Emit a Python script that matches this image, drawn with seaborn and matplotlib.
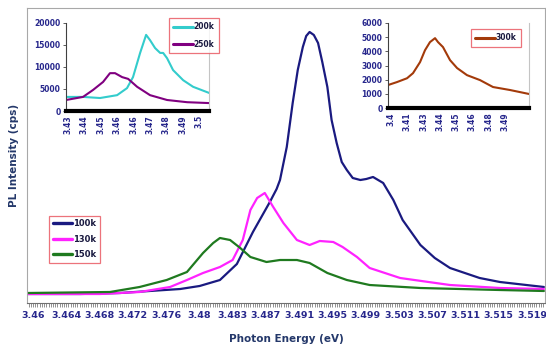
import numpy as np
import pandas as pd
import matplotlib
matplotlib.use("Agg")
import matplotlib.pyplot as plt
from matplotlib.ticker import FixedLocator
import seaborn as sns

# ---------------- data ----------------
# main panel: 100k / 130k / 150k
e_100k = [3.4594, 3.4656, 3.4703, 3.4738, 3.4774, 3.4797, 3.4821, 3.4841, 3.4860,
          3.4880, 3.4888, 3.4892, 3.4900, 3.4907, 3.4913, 3.4919, 3.4923, 3.4927,
          3.4932, 3.4937, 3.4942, 3.4948, 3.4953, 3.4959, 3.4965, 3.4971, 3.4978,
          3.4987, 3.4994, 3.5002, 3.5014, 3.5026, 3.5037, 3.5058, 3.5075, 3.5093,
          3.5128, 3.5152, 3.5204]
i_100k = [610, 610, 678, 814, 949, 1153, 1559, 2644, 4814,
          6848, 7729, 8339, 10577, 13560, 15797, 17357, 18103, 18374,
          18170, 17628, 16340, 14645, 12407, 10848, 9559, 9017, 8475,
          8339, 8407, 8543, 8136, 6983, 5627, 3932, 3051, 2373,
          1695, 1424, 1085]

e_130k = [3.4594, 3.4679, 3.4726, 3.4762, 3.4782, 3.4801, 3.4821, 3.4836, 3.4848,
          3.4857, 3.4865, 3.4874, 3.4884, 3.4896, 3.4912, 3.4927, 3.4939, 3.4955,
          3.4966, 3.4983, 3.4998, 3.5034, 3.5093, 3.5152, 3.5204]
i_130k = [610, 610, 746, 1085, 1559, 2034, 2441, 2915, 4271,
          6305, 7119, 7458, 6509, 5424, 4271, 3932, 4204, 4136,
          3797, 3119, 2373, 1695, 1220, 1017, 949]

e_150k = [3.4594, 3.4691, 3.4726, 3.4758, 3.4782, 3.4801, 3.4813, 3.4821, 3.4833,
          3.4845, 3.4857, 3.4876, 3.4892, 3.4912, 3.4927, 3.4948, 3.4971, 3.4998,
          3.5058, 3.5152, 3.5204]
i_150k = [678, 746, 1085, 1559, 2102, 3390, 4068, 4407, 4271,
          3729, 3119, 2780, 2915, 2915, 2712, 2034, 1559, 1220,
          1017, 881, 814]

main_tick_labels = ["3.46", "3.464", "3.468", "3.472", "3.476", "3.48", "3.483",
                    "3.487", "3.491", "3.495", "3.499", "3.503", "3.507", "3.511",
                    "3.515", "3.519"]

# inset 1: 200k / 250k
e_200k = [3.4289, 3.4380, 3.4471, 3.4562, 3.4615, 3.4647, 3.4685, 3.4717, 3.4738,
          3.4765, 3.4792, 3.4808, 3.4829, 3.4861, 3.4915, 3.4968, 3.5054]
i_200k = [3200, 3200, 2950, 3600, 5200, 7700, 13200, 17300, 16100,
          14300, 13200, 13200, 12000, 9300, 7000, 5500, 4100]
e_250k = [3.4289, 3.4380, 3.4434, 3.4487, 3.4524, 3.4551, 3.4589, 3.4621, 3.4669,
          3.4738, 3.4829, 3.4936, 3.5054]
i_250k = [2500, 3200, 4800, 6600, 8600, 8600, 7700, 7300, 5500,
          3600, 2500, 2000, 1800]
inset1_yticks = [0, 5000, 10000, 15000, 20000]
inset1_xlabels = ["3.43", "3.44", "3.45", "3.46", "3.46", "3.47", "3.48", "3.49", "3.5"]

# inset 2: 300k
e_300k = [3.3977, 3.4046, 3.4123, 3.4169, 3.4223, 3.4261, 3.4299, 3.4338, 3.4361,
          3.4399, 3.4453, 3.4507, 3.4583, 3.4683, 3.4783, 3.4913, 3.5059]
i_300k = [1620, 1830, 2100, 2460, 3240, 4080, 4650, 4930, 4650,
          4300, 3380, 2820, 2320, 1970, 1480, 1270, 990]
inset2_yticks = [0, 1000, 2000, 3000, 4000, 5000, 6000]
inset2_xlabels = ["3.4", "3.41", "3.43", "3.44", "3.45", "3.46", "3.48", "3.49"]

# ---------------- style ----------------
sns.set_theme(style="white")
plt.rcParams["font.family"] = ["DejaVu Sans"]
plt.rcParams["font.weight"] = "bold"

NAVY = "#1a1a80"
MAG = "#ff22ff"
GREEN = "#1f7a1f"
CYAN = "#33cccc"
PURPLE = "#800080"
BROWN = "#a33a0a"
TICKCOL = "#27278c"
LABCOL = "#24386a"
LEGEDGE = "#e8505a"
LEGTXT = "#1a1a40"

fig = plt.figure(figsize=(5.46, 3.47), dpi=100)
fig.patch.set_facecolor("white")

# ---------------- main axes ----------------
ax = fig.add_axes([27 / 546, 1 - 303 / 347, 518 / 546, 295 / 347])
for e, i, c, lab in [(e_100k, i_100k, NAVY, "100k"),
                     (e_130k, i_130k, MAG, "130k"),
                     (e_150k, i_150k, GREEN, "150k")]:
    sns.lineplot(x=e, y=i, color=c, lw=1.6, label=lab, ax=ax, sort=False)

ax.set_xlim(3.45929, 3.52053)
ax.set_ylim(0, 20000)
ax.set_yticks([])
major = np.linspace(3.46, 3.519, len(main_tick_labels))
ax.set_xticks(major, main_tick_labels)
step = (major[1] - major[0]) / 15
ax.xaxis.set_minor_locator(FixedLocator(np.arange(major[0] - 3 * step, 3.5205, step)))
ax.tick_params(axis="x", which="both", bottom=True, direction="out", length=3,
               width=0.6, color="#808080")
ax.tick_params(axis="x", which="major", labelsize=6.8, labelcolor=TICKCOL, pad=3)
for s in ["left", "top", "right"]:
    ax.spines[s].set_color("#a8a8a8")
    ax.spines[s].set_linewidth(0.8)
ax.spines["bottom"].set_color("#707070")
ax.spines["bottom"].set_linewidth(0.8)
ax.set_xlabel("Photon Energy (eV)", fontsize=7.5, fontweight="bold", color=LABCOL,
              labelpad=10)
ax.set_ylabel("PL Intensity (cps)", fontsize=7.5, fontweight="bold", color=LABCOL,
              labelpad=6)

h, l = ax.get_legend_handles_labels()
leg = ax.legend(h, l, loc="center", bbox_to_anchor=(74.5 / 546, 1 - 239 / 347),
                bbox_transform=fig.transFigure, fontsize=6, frameon=True,
                fancybox=False, edgecolor=LEGEDGE, borderpad=0.45,
                labelspacing=0.75, handlelength=2.3, handletextpad=0.1,
                borderaxespad=0)
leg.get_frame().set_linewidth(0.9)
for t in leg.get_texts():
    t.set_color(LEGTXT)
    t.set_fontweight("bold")
for hl in leg.get_lines():
    hl.set_linewidth(2.4)


def style_inset(a, ylim, yticks, xlim, xticks, xlabels):
    a.set_facecolor("white")
    a.set_xlim(*xlim)
    a.set_ylim(*ylim)
    a.set_yticks(yticks)
    a.set_xticks(xticks, xlabels)
    a.tick_params(axis="y", left=True, direction="out", length=2.5, width=0.6,
                  color="#404040", labelsize=5.5, labelcolor=TICKCOL, pad=1.5)
    a.tick_params(axis="x", bottom=True, length=0, labelsize=5.5,
                  labelcolor=TICKCOL, pad=3, labelrotation=90)
    a.spines["left"].set_color("#404040")
    a.spines["left"].set_linewidth(0.8)
    a.spines["bottom"].set_color("black")
    a.spines["bottom"].set_linewidth(3)
    a.spines["right"].set_color("#c4c4c4")
    a.spines["right"].set_linewidth(0.8)
    a.spines["top"].set_visible(False)
    a.set_xlabel("")
    a.set_ylabel("")


def inset_legend(a, center, bp, ls):
    h, l = a.get_legend_handles_labels()
    lg = a.legend(h, l, loc="center", bbox_to_anchor=center,
                  bbox_transform=fig.transFigure, fontsize=5.5, frameon=True,
                  fancybox=False, edgecolor=LEGEDGE, borderpad=bp,
                  labelspacing=ls, handlelength=2.6, handletextpad=0.1,
                  borderaxespad=0)
    lg.get_frame().set_linewidth(0.9)
    for t in lg.get_texts():
        t.set_color(LEGTXT)
        t.set_fontweight("bold")
    for hl in lg.get_lines():
        hl.set_linewidth(2.2)


# ---------------- inset 1 ----------------
ax1 = fig.add_axes([66 / 546, 1 - 111 / 347, 143 / 546, 88 / 347])
sns.lineplot(x=e_200k, y=i_200k, color=CYAN, lw=1.5, label="200k", ax=ax1, sort=False)
sns.lineplot(x=e_250k, y=i_250k, color=PURPLE, lw=1.5, label="250k", ax=ax1, sort=False)
style_inset(ax1, (0, 20000), inset1_yticks, (3.4289, 3.5053),
            np.linspace(3.43, 3.5, len(inset1_xlabels)), inset1_xlabels)
inset_legend(ax1, (194 / 546, 1 - 35.5 / 347), 0.5, 1.1)

# ---------------- inset 2 ----------------
ax2 = fig.add_axes([388 / 546, 1 - 108 / 347, 141 / 546, 85 / 347])
sns.lineplot(x=e_300k, y=i_300k, color=BROWN, lw=1.5, label="300k", ax=ax2, sort=False)
style_inset(ax2, (0, 6000), inset2_yticks, (3.3977, 3.5059),
            np.linspace(3.4, 3.4875, len(inset2_xlabels)), inset2_xlabels)
inset_legend(ax2, (496 / 546, 1 - 38 / 347), 0.6, 1.0)

fig.savefig("out.png", dpi=100, facecolor="white")
